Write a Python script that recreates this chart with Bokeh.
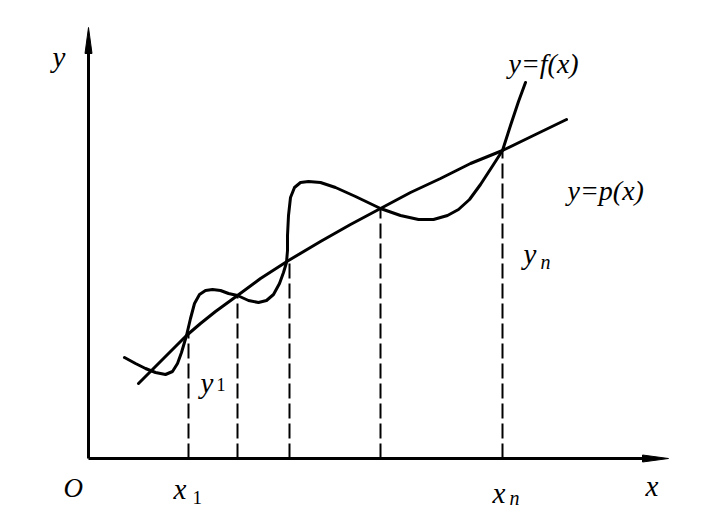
from bokeh.plotting import figure
from bokeh.models import Range1d
from bokeh.core.properties import value
from bokeh.embed import file_html
from bokeh.resources import INLINE

# f(x) curve (data units, origin at axis corner)
f_x = [36, 47, 57, 67, 77, 84, 89, 93, 98, 102, 106, 111, 117, 124, 132, 140, 149, 160, 170, 178,
       185, 191, 195, 198, 199, 199, 200, 202, 206, 212, 220, 232, 247, 267, 292, 312, 330, 345,
       359, 370, 381, 392, 405, 414, 422, 430, 437]
f_y = [101, 95, 90, 86, 84, 87, 95, 106, 123, 140, 155, 164, 168, 169, 168, 165, 163, 158, 156, 158,
       164, 175, 186, 196, 208, 223, 243, 261, 271, 276, 277, 276, 271, 262, 250, 243, 239, 239,
       243, 249, 259, 274, 294, 308, 333, 357, 376]

# p(x) curve
p_x = [50, 62, 74, 87, 98, 112, 127, 149, 172, 200, 232, 262, 292, 322, 352, 382, 414, 447, 478]
p_y = [75, 87, 99, 112, 123, 135, 147, 163, 180, 198, 217, 234, 250, 266, 280, 295, 308, 324, 339]

# interpolation nodes
node_x = [100, 149, 201, 292, 414]
node_y = [125, 163, 198, 250, 308]

x_axis_end = 580
y_axis_end = 431

p = figure(width=693, height=514, output_backend="svg", toolbar_location=None,
           x_range=Range1d(-88, 605), y_range=Range1d(-56, 458),
           x_axis_type=None, y_axis_type=None, min_border=0)
p.outline_line_color = None
p.grid.visible = False
p.background_fill_color = "white"
p.border_fill_color = "white"

ink = "#000000"

# axes
p.line([0, x_axis_end - 20], [0, 0], line_color=ink, line_width=3)
p.line([0, 0], [0, y_axis_end - 20], line_color=ink, line_width=3)
p.patch([x_axis_end, x_axis_end - 26, x_axis_end - 26], [0, 3.5, -3.5], color=ink, line_width=1)
p.patch([0, 3.5, -3.5], [y_axis_end, y_axis_end - 26, y_axis_end - 26], color=ink, line_width=1)

# dashed verticals
p.segment(x0=node_x, y0=[0] * len(node_x), x1=node_x, y1=node_y,
          line_color=ink, line_width=2, line_dash="15 5")

# curves
p.line(p_x, p_y, line_color=ink, line_width=3, line_join="round", line_cap="round")
p.line(f_x, f_y, line_color=ink, line_width=3, line_join="round", line_cap="round")

font = value("Liberation Serif")

def label(x, y, t, size, style="italic"):
    p.text(x=[x], y=[y], text=[t], text_font=font, text_font_size=size,
           text_font_style=style, text_color=ink, text_align="left",
           text_baseline="alphabetic")

label(-36, 402, "y", "29px")
label(-25, -29, "O", "27px")
label(557, -27, "x", "29px")
label(85, -30, "x", "29px")
label(104, -39, "1", "19px", "normal")
label(404, -34, "x", "29px")
label(421, -39, "n", "20px")
label(112, 76, "y", "29px")
label(128, 74, "1", "18px", "normal")
label(435, 205, "y", "29px")
label(452, 197, "n", "20px")
label(420, 395, "y=f(x)", "28px")
label(479, 268, "y=p(x)", "28px")

open("out.html", "w").write(file_html(p, INLINE))
